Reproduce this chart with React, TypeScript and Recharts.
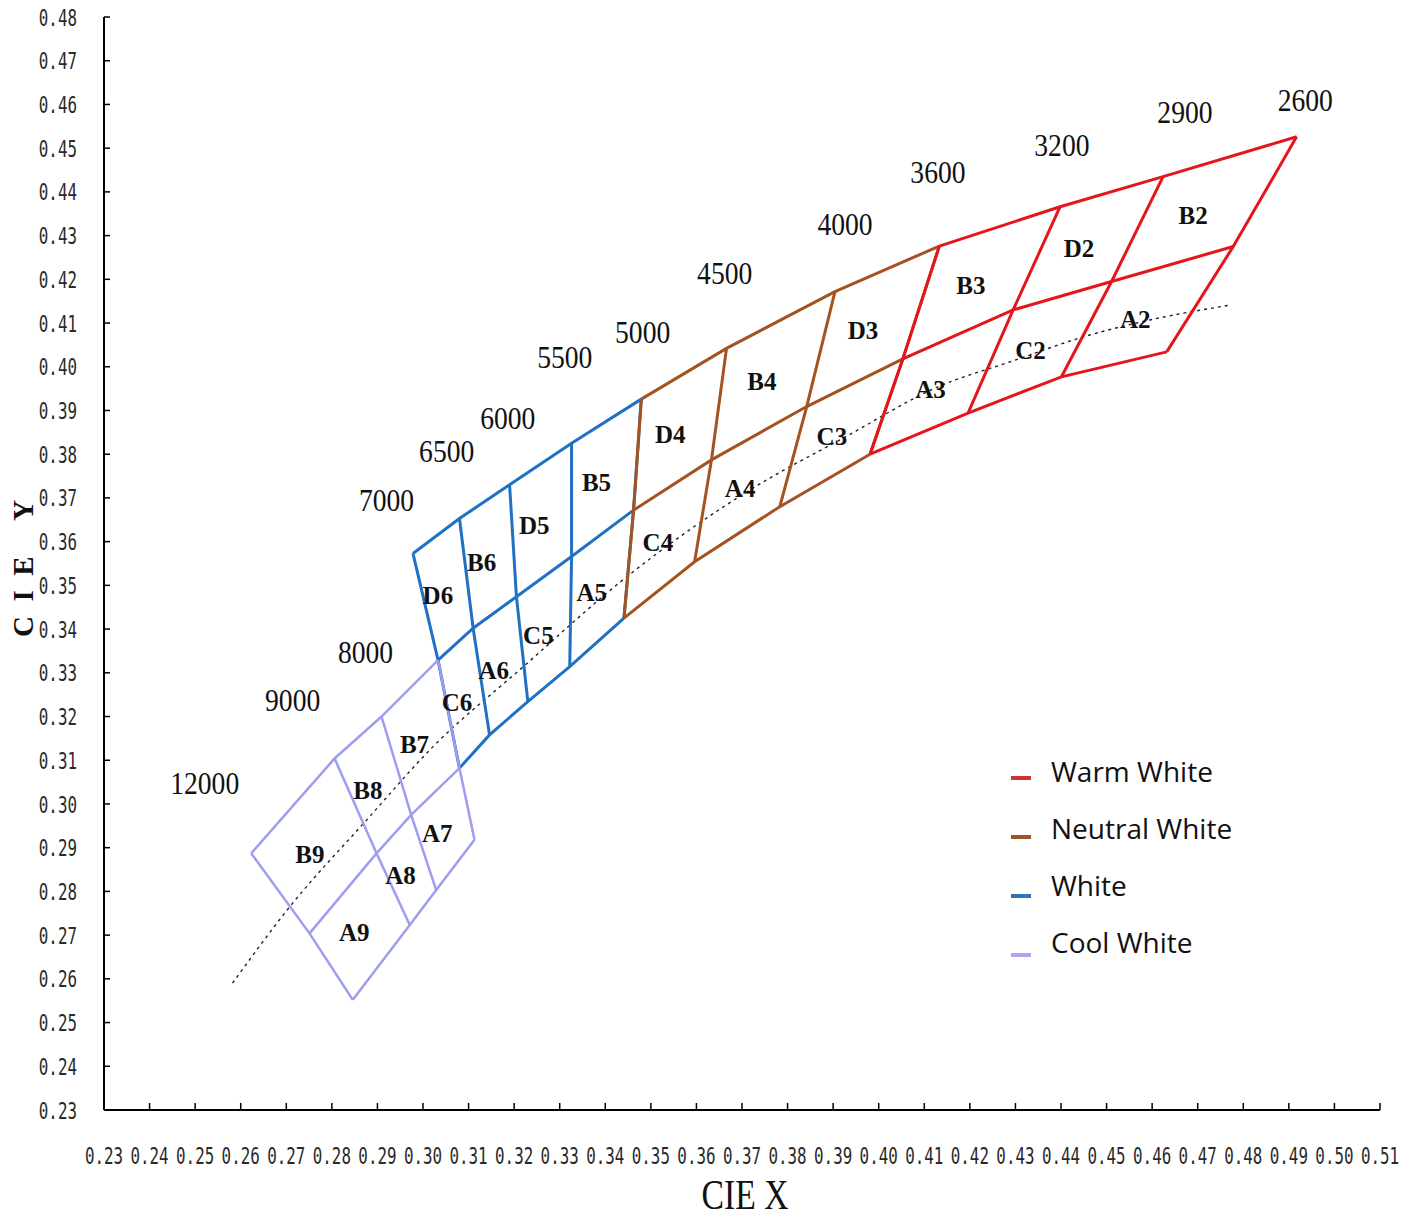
import React from 'react';
import { ComposedChart, Line, Scatter, XAxis, YAxis } from 'recharts';

type Pt = [number, number];

// axis ticks
const xTicks = [0.23, 0.24, 0.25, 0.26, 0.27, 0.28, 0.29, 0.3, 0.31, 0.32, 0.33, 0.34, 0.35, 0.36, 0.37,
  0.38, 0.39, 0.4, 0.41, 0.42, 0.43, 0.44, 0.45, 0.46, 0.47, 0.48, 0.49, 0.5, 0.51];
const yTicks = [0.23, 0.24, 0.25, 0.26, 0.27, 0.28, 0.29, 0.3, 0.31, 0.32, 0.33, 0.34, 0.35, 0.36, 0.37,
  0.38, 0.39, 0.4, 0.41, 0.42, 0.43, 0.44, 0.45, 0.46, 0.47, 0.48];

// Warm White grid: boundaries 2600, 2900, 3200, 3600 K
const warmTop: Pt[] = [[0.4917, 0.4526], [0.4624, 0.4435], [0.4398, 0.4366], [0.4133, 0.4276]];
const warmMid: Pt[] = [[0.4778, 0.4275], [0.4511, 0.4195], [0.4295, 0.413], [0.4053, 0.4018]];
const warmBottom: Pt[] = [[0.4632, 0.4034], [0.4401, 0.3977], [0.4196, 0.3894], [0.3981, 0.38]];
const warmUpper = ['B2', 'D2', 'B3'];
const warmLower = ['A2', 'C2', 'A3'];

// Neutral White grid: 3600, 4000, 4500, 5000 K
const neutralTop: Pt[] = [[0.4133, 0.4276], [0.3904, 0.4172], [0.3666, 0.4042], [0.3479, 0.3926]];
const neutralMid: Pt[] = [[0.4053, 0.4018], [0.3842, 0.3909], [0.3633, 0.3787], [0.3462, 0.3672]];
const neutralBottom: Pt[] = [[0.3981, 0.38], [0.3783, 0.368], [0.3596, 0.3554], [0.3441, 0.3425]];
const neutralUpper = ['D3', 'B4', 'D4'];
const neutralLower = ['C3', 'A4', 'C4'];

// White grid: 5000, 5500, 6000, 6500, 7000 K
const whiteTop: Pt[] = [[0.3479, 0.3926], [0.3326, 0.3825], [0.319, 0.373], [0.308, 0.3653], [0.2978, 0.3573]];
const whiteMid: Pt[] = [[0.3462, 0.3672], [0.3326, 0.3566], [0.3205, 0.3474], [0.311, 0.3402], [0.3033, 0.3329]];
const whiteBottom: Pt[] = [[0.3441, 0.3425], [0.3322, 0.3314], [0.323, 0.3234], [0.3146, 0.3158], [0.308, 0.3082]];
const whiteUpper = ['B5', 'D5', 'B6', 'D6'];
const whiteLower = ['A5', 'C5', 'A6', 'C6'];

// Cool White grid: 7000, 8000, 9000, 12000 K
const coolTop: Pt[] = [[0.3033, 0.3329], [0.2909, 0.32], [0.2806, 0.3104], [0.2623, 0.2887]];
const coolMid: Pt[] = [[0.308, 0.3082], [0.2974, 0.2975], [0.2898, 0.2887], [0.2751, 0.2704]];
const coolBottom: Pt[] = [[0.3113, 0.2918], [0.3029, 0.2803], [0.2971, 0.2723], [0.2846, 0.2552]];
const coolUpper = ['B7', 'B8', 'B9'];
const coolLower = ['A7', 'A8', 'A9'];

// CCT labels
const cctNames = ['2600', '2900', '3200', '3600', '4000', '4500', '5000', '5500', '6000', '6500', '7000', '8000', '9000', '12000'];
const cctX = [0.4936, 0.4672, 0.4402, 0.413, 0.3926, 0.3662, 0.3482, 0.3311, 0.3186, 0.3052, 0.292, 0.2874, 0.2714, 0.2521];
const cctY = [0.461, 0.4583, 0.4507, 0.4445, 0.4327, 0.4214, 0.408, 0.4022, 0.3883, 0.3807, 0.3695, 0.3348, 0.3238, 0.3048];

// black body locus (dotted)
const planckX = [0.2582, 0.2707, 0.2876, 0.3021, 0.3219, 0.3438, 0.3585, 0.3728, 0.3926, 0.413, 0.4299, 0.4448, 0.4595, 0.4771];
const planckY = [0.259, 0.2764, 0.2963, 0.313, 0.3313, 0.3512, 0.3627, 0.3725, 0.3839, 0.3954, 0.4015, 0.4068, 0.4107, 0.4141];

const legendNames = ['Warm White', 'Neutral White', 'White', 'Cool White'];

const RED = '#e4161c';
const BROWN = '#a4521f';
const BLUE = '#2070c4';
const LAVENDER = '#9d9ef0';

// draw order: blue below lavender, brown over blue, red on top
const groups = [
  { color: BLUE, width: 3, top: whiteTop, mid: whiteMid, bottom: whiteBottom, upper: whiteUpper, lower: whiteLower },
  { color: LAVENDER, width: 2.5, top: coolTop, mid: coolMid, bottom: coolBottom, upper: coolUpper, lower: coolLower },
  { color: BROWN, width: 3, top: neutralTop, mid: neutralMid, bottom: neutralBottom, upper: neutralUpper, lower: neutralLower },
  { color: RED, width: 3, top: warmTop, mid: warmMid, bottom: warmBottom, upper: warmUpper, lower: warmLower },
];
const legendColors = ['#d03234', '#a0522d', '#2e75b6', '#a8a8ee'];

const toXY = (pts: Pt[]) => pts.map(([x, y]) => ({ x, y }));

const avg = (pts: Pt[]) => ({
  x: pts.reduce((s, p) => s + p[0], 0) / pts.length,
  y: pts.reduce((s, p) => s + p[1], 0) / pts.length,
});

const polylines = groups.flatMap((g, gi) => {
  const rows = [g.top, g.mid, g.bottom].map((r, ri) => ({ key: `g${gi}r${ri}`, color: g.color, width: g.width, data: toXY(r) }));
  const cols = g.top.map((_, i) => ({
    key: `g${gi}c${i}`, color: g.color, width: g.width,
    data: toXY([g.top[i], g.mid[i], g.bottom[i]]),
  }));
  return [...rows, ...cols];
});

const cellLabels = groups.flatMap((g) =>
  g.upper.flatMap((name, j) => [
    { name, ...avg([g.top[j], g.top[j + 1], g.mid[j + 1], g.mid[j]]) },
    { name: g.lower[j], ...avg([g.mid[j], g.mid[j + 1], g.bottom[j + 1], g.bottom[j]]) },
  ])
);

const cctData = cctNames.map((name, i) => ({ name, x: cctX[i], y: cctY[i] }));
const planckData = planckX.map((x, i) => ({ x, y: planckY[i] }));

const tickFont = "'DejaVu Sans Mono', monospace";
const serif = "'Liberation Serif', 'Times New Roman', serif";

// tall, narrow tick labels: squeeze the mono font horizontally
const TickText = ({ x, y, anchor, value }: { x: number; y: number; anchor: 'middle' | 'end'; value: number }) => (
  <g transform={`translate(${x}, ${y}) scale(0.69, 1)`}>
    <text x={0} y={0} textAnchor={anchor} dominantBaseline="central" fontFamily={tickFont}
      fontSize={23} fill="#2a2a2a">
      {Number(value).toFixed(2)}
    </text>
  </g>
);

const renderXTick = (props: any) => {
  const { x, y, payload } = props;
  return (
    <g>
      <line x1={x} x2={x} y1={y} y2={y - 7} stroke="#000" strokeWidth={1.5} />
      <TickText x={x} y={y + 46} anchor="middle" value={payload.value} />
    </g>
  );
};

const renderYTick = (props: any) => {
  const { x, y, payload } = props;
  return (
    <g>
      <line x1={x} x2={x + 6} y1={y} y2={y} stroke="#000" strokeWidth={1.5} />
      <TickText x={x - 27} y={y + 1} anchor="end" value={payload.value} />
    </g>
  );
};

const XTitle = (props: any) => {
  const vb = props.viewBox || { x: 104, y: 1110, width: 1276, height: 100 };
  return (
    <text x={vb.x + vb.width / 2 + 3} y={vb.y + 99} textAnchor="middle" fontFamily={serif} fontSize={42}
      textLength={87} lengthAdjust="spacingAndGlyphs" fill="#111">
      CIE X
    </text>
  );
};

const YTitle = (props: any) => {
  const vb = props.viewBox || { x: 14, y: 17, width: 90, height: 1093 };
  const cx = vb.x + 19;
  const cy = vb.y + vb.height / 2 + 5;
  return (
    <text x={cx} y={cy} transform={`rotate(-90, ${cx}, ${cy})`} textAnchor="middle" fontFamily={serif}
      fontWeight="bold" fontSize={29} textLength={137} lengthAdjust="spacing" fill="#111">
      CIE Y
    </text>
  );
};

const renderCct = (props: any) => (
  <text x={props.cx} y={props.cy} textAnchor="middle" dominantBaseline="central" fontFamily={serif}
    fontSize={32} textLength={props.payload.name.length * 13.8} lengthAdjust="spacingAndGlyphs" fill="#111">
    {props.payload.name}
  </text>
);

const renderCell = (props: any) => (
  <text x={props.cx - 8} y={props.cy + 5} textAnchor="middle" dominantBaseline="central" fontFamily={serif}
    fontWeight="bold" fontSize={25} fill="#111">
    {props.payload.name}
  </text>
);

export default function App() {
  return (
    <div style={{ position: 'relative', width: 1409, height: 1219, margin: '-8px 0 0 -8px' }}>
      <ComposedChart width={1409} height={1219} margin={{ top: 17, right: 29, left: 14, bottom: 9 }}>
        <XAxis type="number" dataKey="x" domain={[0.23, 0.51]} ticks={xTicks} interval={0} allowDataOverflow
          height={100} axisLine={{ stroke: '#000', strokeWidth: 2 }} tickLine={false} tickSize={0} tickMargin={0}
          tick={renderXTick} label={<XTitle />} />
        <YAxis type="number" dataKey="y" domain={[0.23, 0.48]} ticks={yTicks} interval={0} allowDataOverflow
          width={90} axisLine={{ stroke: '#000', strokeWidth: 2 }} tickLine={false} tickSize={0} tickMargin={0}
          tick={renderYTick} label={<YTitle />} />
        <Line data={planckData} dataKey="y" type="monotone" stroke="#222" strokeWidth={1.4} strokeDasharray="3 4"
          dot={false} activeDot={false} isAnimationActive={false} />
        {polylines.map((p) => (
          <Line key={p.key} data={p.data} dataKey="y" type="linear" stroke={p.color} strokeWidth={p.width}
            strokeLinejoin="miter" dot={false} activeDot={false} isAnimationActive={false} />
        ))}
        <Scatter data={cctData} dataKey="y" shape={renderCct} isAnimationActive={false} />
        <Scatter data={cellLabels} dataKey="y" shape={renderCell} isAnimationActive={false} />
      </ComposedChart>
      <div style={{ position: 'absolute', left: 1011, top: 749, fontFamily: "'Open Sans', sans-serif", fontSize: 28, color: '#111' }}>
        {legendNames.map((name, i) => (
          <div key={name} style={{ position: 'relative', height: 57 }}>
            <div style={{ position: 'absolute', left: 0, top: 27 + i * 2, width: 20, height: 4, background: legendColors[i] }} />
            <div style={{ position: 'absolute', left: 40, top: 4, whiteSpace: 'nowrap', lineHeight: '36px' }}>{name}</div>
          </div>
        ))}
      </div>
    </div>
  );
}
